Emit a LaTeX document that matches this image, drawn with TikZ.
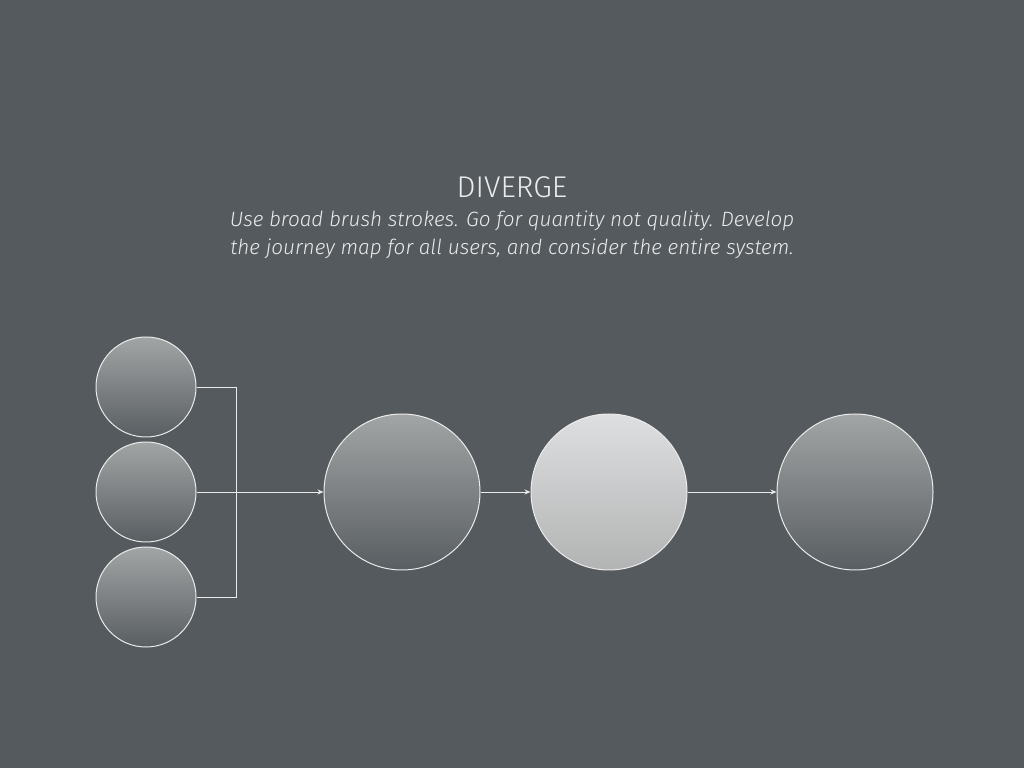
\documentclass[tikz,border=0pt]{standalone}
\usepackage{fontspec}
\setmainfont{Fira Sans}[UprightFont=* Light, ItalicFont=* Light Italic]
\usetikzlibrary{arrows.meta}
\definecolor{bg}{HTML}{555A5E}
\definecolor{ink}{HTML}{EBEBEB}
\definecolor{gtop}{HTML}{A2A5A5}
\definecolor{gbot}{HTML}{595E62}
\definecolor{ltop}{HTML}{DDDFE0}
\definecolor{lbot}{HTML}{B2B4B4}
\tikzset{
  dot/.style={circle, draw=ink, line width=1pt, inner sep=0pt, top color=gtop, bottom color=gbot},
  smalldot/.style={dot, minimum size=100pt},
  bigdot/.style={dot, minimum size=156pt},
  litdot/.style={bigdot, top color=ltop, bottom color=lbot},
  link/.style={draw=ink, line width=0.9pt},
  arr/.style={link, -{Stealth[length=6pt,width=5pt]}},
}
\begin{document}
\begin{tikzpicture}[x=1pt,y=1pt]
\fill[bg] (0,0) rectangle (1024,768);
\useasboundingbox (0,0) rectangle (1024,768);
\node[text=ink, font=\fontsize{30}{34}\selectfont] (title) at (512,581) {DIVERGE};
\node[text=ink, font=\fontsize{20.7}{28}\selectfont\itshape, align=center] (sub) at (512,533)
  {Use broad brush strokes. Go for quantity not quality. Develop\\the journey map for all users, and consider the entire system.};
\node[smalldot] (s1) at (146,381) {};
\node[smalldot] (s2) at (146,276) {};
\node[smalldot] (s3) at (146,171) {};
\node[bigdot] (b1) at (402,276) {};
\node[litdot] (b2) at (609,276) {};
\node[bigdot] (b3) at (855,276) {};
\coordinate (j) at (236,276);
\draw[link] (s1.east) -| (j);
\draw[link] (s3.east) -| (j);
\draw[arr] (s2.east) -- (b1.west);
\draw[arr] (b1.east) -- (b2.west);
\draw[arr] (b2.east) -- (b3.west);
\end{tikzpicture}
\end{document}
